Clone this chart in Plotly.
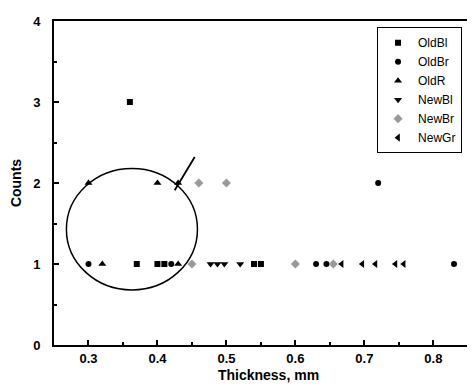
import plotly.graph_objects as go

# Data
oldbl_x = [0.36, 0.37, 0.40, 0.41, 0.54, 0.55]
oldbl_y = [3, 1, 1, 1, 1, 1]
oldbr_x = [0.30, 0.42, 0.63, 0.645, 0.72, 0.83]
oldbr_y = [1, 1, 1, 1, 2, 1]
oldr_x = [0.30, 0.40, 0.43, 0.32, 0.43]
oldr_y = [2, 2, 2, 1, 1]
newbl_x = [0.477, 0.487, 0.497, 0.52]
newbl_y = [1, 1, 1, 1]
newbr_x = [0.45, 0.46, 0.50, 0.60, 0.655]
newbr_y = [1, 2, 2, 1, 1]
newgr_x = [0.667, 0.697, 0.716, 0.745, 0.757]
newgr_y = [1, 1, 1, 1, 1]

series = [
    ("OldBl", oldbl_x, oldbl_y, "square", "black", 6),
    ("OldBr", oldbr_x, oldbr_y, "circle", "black", 6),
    ("OldR", oldr_x, oldr_y, "triangle-up", "black", 7),
    ("NewBl", newbl_x, newbl_y, "triangle-down", "black", 7),
    ("NewBr", newbr_x, newbr_y, "diamond", "#9a9a9a", 7),
    ("NewGr", newgr_x, newgr_y, "triangle-left", "black", 7),
]

fig = go.Figure()
for name, xs, ys, sym, col, sz in series:
    fig.add_trace(go.Scatter(
        x=xs, y=ys, mode="markers", name=name,
        marker=dict(symbol=sym, color=col, size=sz, line=dict(width=0)),
    ))

# ellipse and pointer line
fig.add_shape(type="circle", xref="x", yref="y",
              x0=0.268, x1=0.458, y0=0.68, y1=2.18,
              line=dict(color="black", width=1.5))
fig.add_shape(type="line", xref="x", yref="y",
              x0=0.454, y0=2.32, x1=0.425, y1=1.91,
              line=dict(color="black", width=1.8))

FONT = "Liberation Sans, Arial, sans-serif"
tickfont = dict(family=FONT, size=13, color="black")

fig.update_layout(
    width=475, height=387,
    margin=dict(l=46, r=0, t=13, b=50),
    paper_bgcolor="white", plot_bgcolor="white",
    showlegend=True,
    legend=dict(
        x=0.753, y=0.981, xanchor="left", yanchor="top",
        bordercolor="black", borderwidth=1, bgcolor="white",
        font=dict(family=FONT, size=12, color="black"),
        tracegroupgap=0, itemwidth=30,
    ),
    xaxis=dict(
        range=[0.25, 0.872], tickvals=[0.3, 0.4, 0.5, 0.6, 0.7, 0.8],
        ticktext=["<b>0.3</b>", "<b>0.4</b>", "<b>0.5</b>", "<b>0.6</b>", "<b>0.7</b>", "<b>0.8</b>"],
        ticks="inside", ticklen=5, tickwidth=1.5, tickcolor="black",
        minor=dict(tickvals=[0.35, 0.45, 0.55, 0.65, 0.75, 0.85], ticks="inside", ticklen=3, tickcolor="black"),
        showline=True, linecolor="black", linewidth=2, mirror=True,
        showgrid=False, zeroline=False, tickfont=tickfont,
        title=dict(text="<b>Thickness, mm</b>", font=dict(family=FONT, size=14, color="black"), standoff=6),
    ),
    yaxis=dict(
        range=[0, 4], tickvals=[0, 1, 2, 3, 4],
        ticktext=["<b>0</b>", "<b>1</b>", "<b>2</b>", "<b>3</b>", "<b>4</b>"],
        ticks="inside", ticklen=5, tickwidth=1.5, tickcolor="black",
        minor=dict(tickvals=[0.5, 1.5, 2.5, 3.5], ticks="inside", ticklen=3, tickcolor="black"),
        showline=True, linecolor="black", linewidth=2, mirror=False,
        showgrid=False, zeroline=False, tickfont=tickfont, ticklabelstandoff=9,
        title=dict(text="<b>Counts</b>", font=dict(family=FONT, size=14, color="black"), standoff=14),
    ),
)

fig.write_html("out.html")
